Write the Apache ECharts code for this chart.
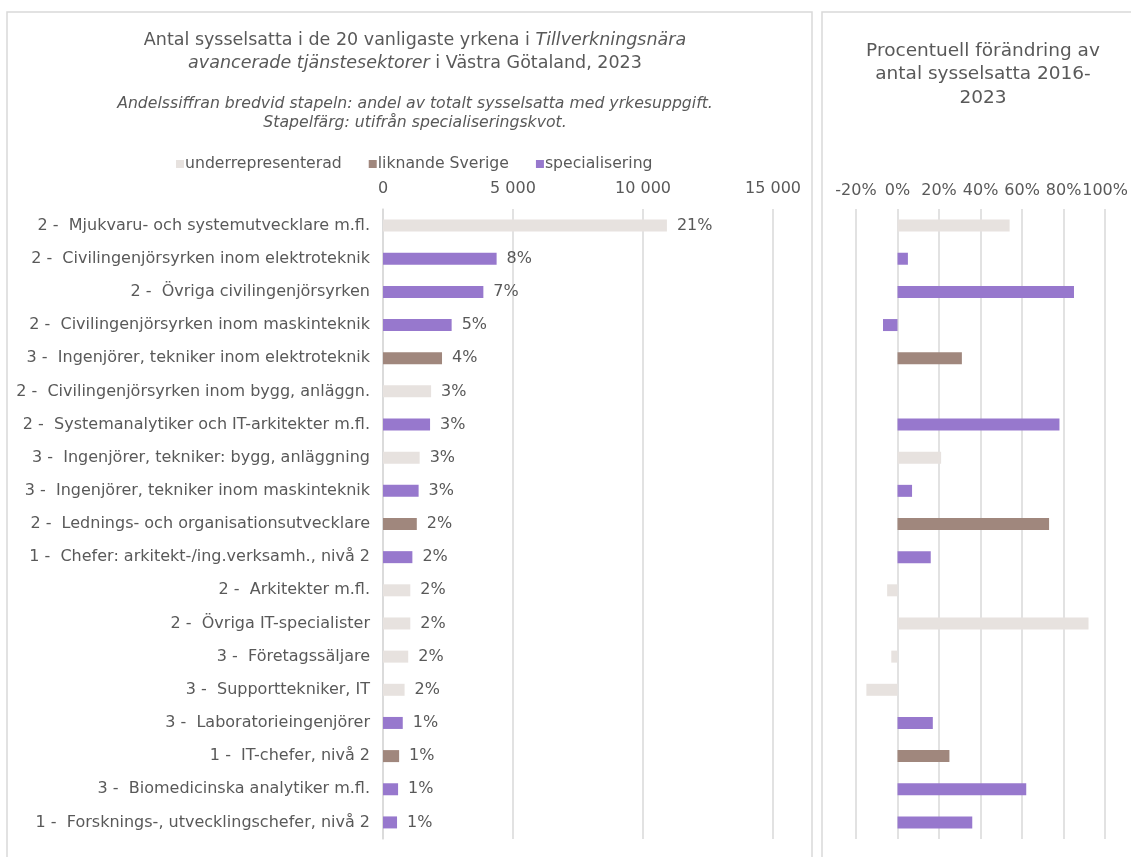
<!DOCTYPE html>
<html>
<head>
<meta charset="utf-8">
<script src="https://cdn.jsdelivr.net/npm/echarts@6/dist/echarts.min.js"></script>
<style>
html,body{margin:0;padding:0;background:#fff;}
#chart{width:1131px;height:857px;}
</style>
</head>
<body>
<div id="chart"></div>
<script>
// ---- DATA ----
const categories = [
  "2 -  Mjukvaru- och systemutvecklare m.fl.",
  "2 -  Civilingenjörsyrken inom elektroteknik",
  "2 -  Övriga civilingenjörsyrken",
  "2 -  Civilingenjörsyrken inom maskinteknik",
  "3 -  Ingenjörer, tekniker inom elektroteknik",
  "2 -  Civilingenjörsyrken inom bygg, anläggn.",
  "2 -  Systemanalytiker och IT-arkitekter m.fl.",
  "3 -  Ingenjörer, tekniker: bygg, anläggning",
  "3 -  Ingenjörer, tekniker inom maskinteknik",
  "2 -  Lednings- och organisationsutvecklare",
  "1 -  Chefer: arkitekt-/ing.verksamh., nivå 2",
  "2 -  Arkitekter m.fl.",
  "2 -  Övriga IT-specialister",
  "3 -  Företagssäljare",
  "3 -  Supporttekniker, IT",
  "3 -  Laboratorieingenjörer",
  "1 -  IT-chefer, nivå 2",
  "3 -  Biomedicinska analytiker m.fl.",
  "1 -  Forsknings-, utvecklingschefer, nivå 2"
];
// specialization group per occupation: 0 = underrepresenterad, 1 = liknande Sverige, 2 = specialisering
const groups = [0,2,2,2,1,0,2,0,2,1,2,0,0,0,0,2,1,2,2];
const groupNames = ["underrepresenterad", "liknande Sverige", "specialisering"];
// number employed 2023
const employed = [10920,4370,3860,2640,2270,1850,1810,1410,1370,1300,1130,1050,1050,970,830,760,620,580,540];
// share of total employed (%)
const shares = [21,8,7,5,4,3,3,3,3,2,2,2,2,2,2,1,1,1,1];
// percentage change 2016-2023 (%)
const change = [54,5,85,-7,31,null,78,21,7,73,16,-5,92,-3,-15,17,25,62,36];
// tick labels
const leftTicks = ["0","5 000","10 000","15 000"];
const rightTicks = ["-20%","0%","20%","40%","60%","80%","100%"];

// ---- STYLE ----
const colors = ["#E7E2DF", "#A0877D", "#9778CD"];
const txt = "#595959";
const gridCol = "#D9D9D9";
const font = "DejaVu Sans, Verdana, sans-serif";

function splitByGroup(values, g) {
  return values.map((v, i) => (groups[i] === g && v !== null) ? v : '-');
}

const series = [];
for (let g = 0; g < 3; g++) {
  series.push({
    name: groupNames[g], type: 'bar', xAxisIndex: 0, yAxisIndex: 0, stack: 'a',
    barWidth: 12, itemStyle: {color: colors[g]},
    data: splitByGroup(employed, g),
    label: {
      show: true, position: 'right', distance: 10, color: txt, fontFamily: font, fontSize: 16,
      formatter: p => shares[p.dataIndex] + '%'
    }
  });
}
for (let g = 0; g < 3; g++) {
  series.push({
    name: groupNames[g], type: 'bar', xAxisIndex: 1, yAxisIndex: 1, stack: 'b',
    barWidth: 12, itemStyle: {color: colors[g]},
    data: splitByGroup(change, g)
  });
}

const chart = echarts.init(document.getElementById('chart'), null, {renderer: 'canvas'});
chart.setOption({
  animation: false,
  backgroundColor: '#fff',
  title: [
    {
      left: 410, top: 24, textAlign: 'center',
      text: '{n|Antal sysselsatta i de 20 vanligaste yrkena i }{i|Tillverkningsnära}\n{i|avancerade tjänstesektorer}{n| i Västra Götaland, 2023}',
      textStyle: {
        fontWeight: 'normal',
        rich: {
          n: {fontFamily: font, fontSize: 17.5, fontWeight: 'normal', color: txt, lineHeight: 23},
          i: {fontFamily: font, fontSize: 17.5, fontWeight: 'normal', color: txt, fontStyle: 'italic', lineHeight: 23}
        }
      }
    },
    {
      left: 410, top: 89, textAlign: 'center',
      text: 'Andelssiffran bredvid stapeln: andel av totalt sysselsatta med yrkesuppgift.\nStapelfärg: utifrån specialiseringskvot.',
      textStyle: {fontFamily: font, fontSize: 15.7, fontStyle: 'italic', fontWeight: 'normal', color: txt, lineHeight: 19.5}
    },
    {
      left: 978, top: 34, textAlign: 'center',
      text: 'Procentuell förändring av\nantal sysselsatta 2016-\n2023',
      textStyle: {fontFamily: font, fontSize: 18.5, fontWeight: 'normal', color: txt, lineHeight: 23.5}
    }
  ],
  legend: {
    left: 171, top: 151, itemWidth: 8, itemHeight: 8, itemGap: 27, icon: 'rect',
    data: groupNames,
    textStyle: {fontFamily: font, fontSize: 15.7, color: txt, padding: [0,0,0,-4]}
  },
  grid: [
    {left: 383, top: 209, width: 390, height: 630, containLabel: false},
    {left: 856, top: 209, width: 251, height: 630, containLabel: false}
  ],
  xAxis: [
    {
      gridIndex: 0, type: 'value', position: 'top', min: 0, max: 15000, interval: 5000,
      axisLine: {show: false}, axisTick: {show: false},
      splitLine: {show: true, lineStyle: {color: gridCol, width: 1.5}},
      axisLabel: {color: txt, fontFamily: font, fontSize: 16, margin: 12,
        formatter: v => leftTicks[Math.round(v / 5000)]}
    },
    {
      gridIndex: 1, type: 'value', position: 'top', min: -20, max: 100, interval: 20,
      axisLine: {show: false}, axisTick: {show: false},
      splitLine: {show: true, lineStyle: {color: gridCol, width: 1.5}},
      axisLabel: {color: txt, fontFamily: font, fontSize: 16, margin: 10,
        formatter: v => rightTicks[Math.round((v + 20) / 20)]}
    }
  ],
  yAxis: [
    {
      gridIndex: 0, type: 'category', inverse: true, data: categories,
      axisLine: {show: true, lineStyle: {color: gridCol, width: 1.5}}, axisTick: {show: false},
      axisLabel: {color: txt, fontFamily: font, fontSize: 16, margin: 13}
    },
    {
      gridIndex: 1, type: 'category', inverse: true, data: categories,
      axisLine: {show: false}, axisTick: {show: false}, axisLabel: {show: false}
    }
  ],
  graphic: [
    {type: 'rect', shape: {x: 7, y: 12, width: 805, height: 870}, style: {fill: 'none', stroke: gridCol, lineWidth: 1.5}, silent: true},
    {type: 'rect', shape: {x: 822, y: 12, width: 340, height: 870}, style: {fill: 'none', stroke: gridCol, lineWidth: 1.5}, silent: true}
  ],
  series: series
});
</script>
</body>
</html>
